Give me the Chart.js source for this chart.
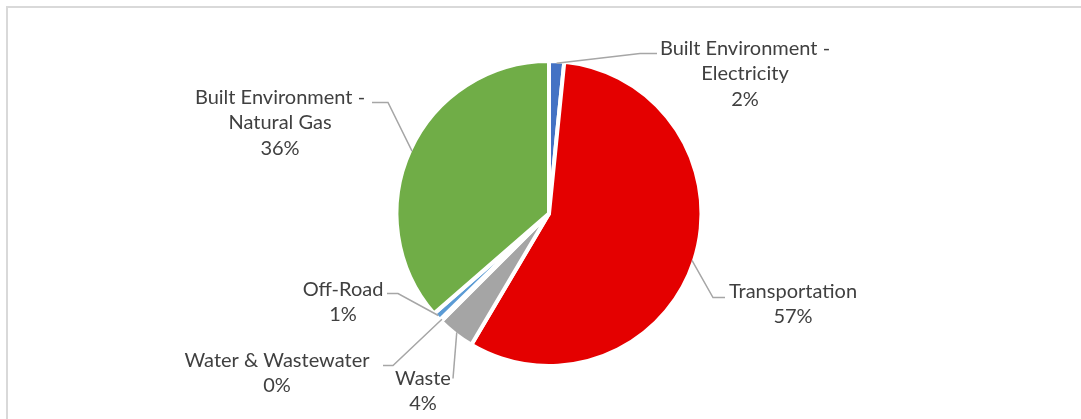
<!DOCTYPE html>
<html>
<head>
<meta charset="utf-8">
<title>Emissions by sector</title>
<script src="https://cdn.jsdelivr.net/npm/chart.js@4.4.0/dist/chart.umd.min.js"></script>
<style>
  html, body { margin: 0; padding: 0; background: #fff; overflow: hidden; }
  #frame { position: absolute; left: 6px; top: 6px; width: 1200px; height: 500px;
           border: 2px solid #d9d9d9; box-sizing: border-box; }
  #wrap { position: absolute; left: 0; top: 0; width: 1081px; height: 419px; }
</style>
</head>
<body>
<div id="frame"></div>
<div id="wrap"><canvas id="pie" width="1081" height="419"></canvas></div>
<script>
// ==================== DADOS ====================
const sectors = [
    ['Built Environment -', 'Electricity'],
    ['Transportation'],
    ['Waste'],
    ['Water & Wastewater'],
    ['Off-Road'],
    ['Built Environment -', 'Natural Gas']
];
const shares = [1.6, 56.9, 4.0, 0.2, 0.9, 36.4];
const sliceColors = ['#4472C4', '#E40000', '#A5A5A5', '#FFC000', '#5B9BD5', '#70AD47'];

// label placement relative to the pie centre (text centre of first line, leader path)
const labelLayout = [
    { tx: 196,  ty: -165, path: [[91, -160], [108, -160]] },
    { tx: 244,  ty: 78,   path: [[164, 84], [176, 84]] },
    { tx: -126, ty: 165,  path: [[-96, 165]] },
    { tx: -272, ty: 147,  path: [[-156, 152], [-166, 152]] },
    { tx: -206, ty: 76,   path: [[-151, 80], [-162, 80]] },
    { tx: -269, ty: -116, path: [[-161, -111], [-177, -111]] }
];

const FONT = '20px Lato, "Open Sans", sans-serif';
const LINE_H = 25.5;

// ==================== RÓTULOS ====================
const leaderLabels = {
    id: 'leaderLabels',
    afterDatasetsDraw(chart) {
        const ctx = chart.ctx;
        const meta = chart.getDatasetMeta(0);
        const total = shares.reduce((a, b) => a + b, 0);

        ctx.save();
        meta.data.forEach((arc, i) => {
            const lay = labelLayout[i];
            const cx = arc.x, cy = arc.y;
            const mid = (arc.startAngle + arc.endAngle) / 2;
            const r = arc.outerRadius - 2;

            // linha guia
            ctx.beginPath();
            ctx.moveTo(cx + Math.cos(mid) * r, cy + Math.sin(mid) * r);
            lay.path.forEach(p => ctx.lineTo(cx + p[0], cy + p[1]));
            ctx.strokeStyle = '#A6A6A6';
            ctx.lineWidth = 1.5;
            ctx.stroke();

            // texto
            const pct = Math.round(shares[i] / total * 100) + '%';
            const lines = sectors[i].concat([pct]);
            ctx.fillStyle = '#404040';
            ctx.font = FONT;
            ctx.textAlign = 'center';
            ctx.textBaseline = 'middle';
            lines.forEach((t, k) => ctx.fillText(t, cx + lay.tx, cy + lay.ty + k * LINE_H));
        });
        ctx.restore();
    }
};

// ==================== GRÁFICO ====================
new Chart(document.getElementById('pie'), {
    type: 'pie',
    data: {
        labels: sectors.map(s => s.join(' ')),
        datasets: [{
            data: shares,
            backgroundColor: sliceColors,
            borderColor: '#fff',
            borderWidth: 4,
            hoverBorderWidth: 4
        }]
    },
    options: {
        responsive: false,
        animation: false,
        layout: { padding: { left: 17, right: 0, top: 59, bottom: 51 } },
        plugins: {
            legend: { display: false },
            tooltip: { enabled: false }
        }
    },
    plugins: [leaderLabels]
});
</script>
</body>
</html>
